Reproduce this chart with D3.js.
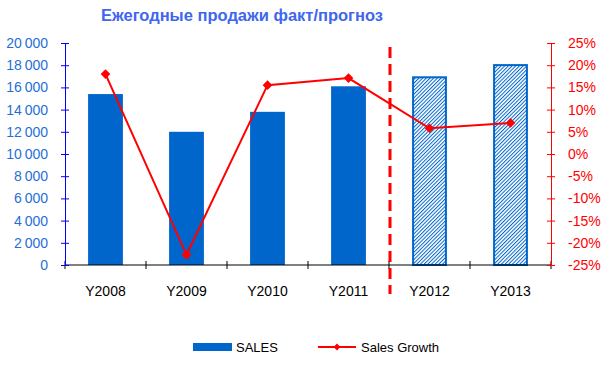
<!DOCTYPE html>
<html>
<head>
<meta charset="utf-8">
<script src="https://cdn.jsdelivr.net/npm/d3@7"></script>
<style>
  body { margin: 0; background: #fff; }
  svg { font-family: "Liberation Sans", Arial, sans-serif; }
</style>
</head>
<body>
<div id="chart"></div>
<script>
const years = ['Y2008', 'Y2009', 'Y2010', 'Y2011', 'Y2012', 'Y2013'];
const sales = [15400, 12000, 13800, 16100, 17000, 18100];
const growth = [0.18, -0.227, 0.155, 0.171, 0.058, 0.07];
const forecastYears = ['Y2012', 'Y2013'];
const salesTicks = [0, 2000, 4000, 6000, 8000, 10000, 12000, 14000, 16000, 18000, 20000];
const growthTicks = [-0.25, -0.2, -0.15, -0.1, -0.05, 0, 0.05, 0.1, 0.15, 0.2, 0.25];

const colors = {
    bar: '#0066cc',
    leftAxis: '#0000ff',
    leftText: '#1f6fd6',
    red: '#ff0000',
    title: '#3f66ee'
};

const width = 606, height = 365;
const margin = { top: 43, right: 55, bottom: 100, left: 65 };

const svg = d3.select('#chart')
    .append('svg')
    .attr('width', width)
    .attr('height', height);

const defs = svg.append('defs');
const hatch = defs.append('pattern')
    .attr('id', 'hatch')
    .attr('patternUnits', 'userSpaceOnUse')
    .attr('width', 2.6)
    .attr('height', 2.6)
    .attr('patternTransform', 'rotate(45)');
hatch.append('rect').attr('width', 2.6).attr('height', 2.6).attr('fill', '#fff');
hatch.append('line')
    .attr('x1', 0.5).attr('y1', 0).attr('x2', 0.5).attr('y2', 2.6)
    .attr('stroke', colors.bar)
    .attr('stroke-width', 1);

const x = d3.scaleBand()
    .domain(years)
    .range([margin.left, width - margin.right])
    .paddingInner(0.57)
    .paddingOuter(0.285);

const xAxisScale = d3.scaleBand()
    .domain(years)
    .range([margin.left, width - margin.right]);

const yLeft = d3.scaleLinear()
    .domain([0, 20000])
    .range([height - margin.bottom, margin.top]);

const yRight = d3.scaleLinear()
    .domain([-0.25, 0.25])
    .range([height - margin.bottom, margin.top]);

// title
svg.append('text')
    .attr('x', 101)
    .attr('y', 21)
    .attr('fill', colors.title)
    .style('font-size', '16.5px')
    .style('font-weight', 'bold')
    .text('Ежегодные продажи факт/прогноз');

// bars
svg.append('g')
    .selectAll('rect')
    .data(years)
    .join('rect')
    .attr('x', d => x(d) + (forecastYears.includes(d) ? 1 : 0))
    .attr('width', d => x.bandwidth() - (forecastYears.includes(d) ? 2 : 0))
    .attr('y', (d, i) => yLeft(sales[i]) + (forecastYears.includes(d) ? 1 : 0))
    .attr('height', (d, i) => yLeft(0) - yLeft(sales[i]) - (forecastYears.includes(d) ? 1 : 0))
    .attr('fill', d => forecastYears.includes(d) ? 'url(#hatch)' : colors.bar)
    .attr('stroke', d => forecastYears.includes(d) ? colors.bar : 'none')
    .attr('stroke-width', 2);

// x axis
const xAxis = svg.append('g')
    .attr('transform', `translate(0,${yLeft(0)})`);
xAxis.append('line')
    .attr('x1', margin.left).attr('x2', width - margin.right)
    .attr('stroke', '#000');
xAxis.selectAll('.tick')
    .data(years.concat(['end']))
    .join('line')
    .attr('x1', (d, i) => margin.left + i * xAxisScale.bandwidth())
    .attr('x2', (d, i) => margin.left + i * xAxisScale.bandwidth())
    .attr('y1', -4).attr('y2', 4)
    .attr('stroke', '#000');
xAxis.selectAll('text')
    .data(years)
    .join('text')
    .attr('x', d => xAxisScale(d) + xAxisScale.bandwidth() / 2)
    .attr('y', 31)
    .attr('text-anchor', 'middle')
    .attr('fill', '#000')
    .style('font-size', '14px')
    .text(d => d);

// left axis
const fmtSales = d => d3.format(',')(d).replace(/,/g, '\u2009');
const leftAxis = svg.append('g')
    .attr('transform', `translate(${margin.left},0)`)
    .call(d3.axisLeft(yLeft).tickValues(salesTicks).tickSize(4).tickSizeOuter(0).tickFormat(fmtSales));
leftAxis.select('.domain').attr('stroke', colors.leftAxis);
leftAxis.selectAll('.tick line')
    .attr('stroke', colors.leftAxis)
    .attr('x1', 4).attr('x2', -4);
leftAxis.selectAll('.tick text')
    .attr('x', -17)
    .attr('fill', colors.leftText)
    .style('font-size', '14px')
    .style('font-family', '"Liberation Sans", Arial, sans-serif');

// right axis
const rightAxis = svg.append('g')
    .attr('transform', `translate(${width - margin.right},0)`)
    .call(d3.axisRight(yRight).tickValues(growthTicks).tickSize(4).tickSizeOuter(0)
        .tickFormat(d => Math.round(d * 100) + '%'));
rightAxis.select('.domain').attr('stroke', colors.red);
rightAxis.selectAll('.tick line')
    .attr('stroke', colors.red)
    .attr('x1', -4).attr('x2', 4);
rightAxis.selectAll('.tick text')
    .attr('x', 17)
    .attr('fill', colors.red)
    .style('font-size', '14px')
    .style('font-family', '"Liberation Sans", Arial, sans-serif');

// forecast divider
const divX = xAxisScale('Y2012') + 1;
svg.append('line')
    .attr('x1', divX).attr('x2', divX)
    .attr('y1', margin.top + 4).attr('y2', 294)
    .attr('stroke', colors.red)
    .attr('stroke-width', 3)
    .attr('stroke-dasharray', '11,6');

// growth line
const center = d => xAxisScale(d) + xAxisScale.bandwidth() / 2;
const line = d3.line()
    .x((d, i) => center(years[i]))
    .y(d => yRight(d));
svg.append('path')
    .datum(growth)
    .attr('d', line)
    .attr('fill', 'none')
    .attr('stroke', colors.red)
    .attr('stroke-width', 2);
svg.append('g')
    .selectAll('path')
    .data(growth)
    .join('path')
    .attr('d', d3.symbol(d3.symbolDiamond2, 60))
    .attr('transform', (d, i) => `translate(${center(years[i])},${yRight(d)})`)
    .attr('fill', colors.red);

// legend
const legend = svg.append('g').attr('transform', 'translate(0,347)');
legend.append('rect')
    .attr('x', 193).attr('y', -4)
    .attr('width', 39).attr('height', 8)
    .attr('fill', colors.bar);
legend.append('text')
    .attr('x', 236).attr('y', 5)
    .style('font-size', '13px')
    .attr('fill', '#000')
    .text('SALES');
legend.append('line')
    .attr('x1', 318).attr('x2', 356)
    .attr('stroke', colors.red)
    .attr('stroke-width', 2);
legend.append('path')
    .attr('d', d3.symbol(d3.symbolDiamond2, 30))
    .attr('transform', 'translate(337,0)')
    .attr('fill', colors.red);
legend.append('text')
    .attr('x', 361).attr('y', 5)
    .style('font-size', '13px')
    .attr('fill', '#000')
    .text('Sales Growth');
</script>
</body>
</html>
